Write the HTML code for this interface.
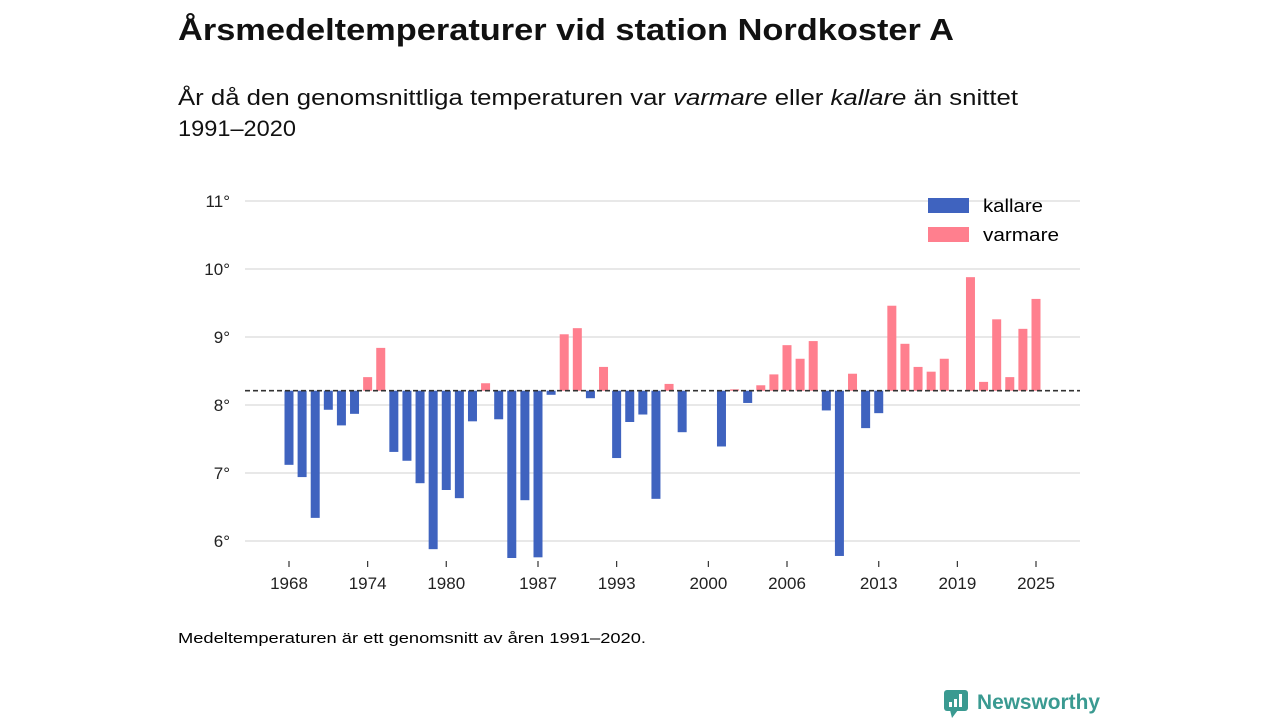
<!DOCTYPE html>
<html><head><meta charset="utf-8"><style>
body{margin:0;width:1280px;height:720px;background:#fff;font-family:"Liberation Sans","DejaVu Sans",sans-serif;color:#111;overflow:hidden}
</style></head><body>
<svg width="1280" height="720" xmlns="http://www.w3.org/2000/svg" id="chart">
<text x="178" y="40" font-size="31" font-weight="bold" fill="#111" textLength="776" lengthAdjust="spacingAndGlyphs">Årsmedeltemperaturer vid station Nordkoster A</text>
<text x="178" y="105" font-size="22" fill="#111" textLength="840" lengthAdjust="spacingAndGlyphs">År då den genomsnittliga temperaturen var <tspan font-style="italic">varmare</tspan> eller <tspan font-style="italic">kallare</tspan> än snittet</text>
<text x="178" y="136" font-size="22" fill="#111" textLength="118" lengthAdjust="spacingAndGlyphs">1991–2020</text>
<g id="grid"></g><g id="bars"></g><g id="xaxis"></g>
<g>
<rect x="928" y="198" width="41" height="15" fill="#3f63bf"/>
<text x="983" y="212" font-size="18" textLength="60" lengthAdjust="spacingAndGlyphs">kallare</text>
<rect x="928" y="227" width="41" height="15" fill="#ff7f8e"/>
<text x="983" y="241" font-size="18" textLength="76" lengthAdjust="spacingAndGlyphs">varmare</text>
</g>
<text x="178" y="643" font-size="15" textLength="468" lengthAdjust="spacingAndGlyphs">Medeltemperaturen är ett genomsnitt av åren 1991–2020.</text>
<g>
<rect x="944" y="690" width="24" height="21" rx="3" fill="#3a9a91"/>
<polygon points="950,710 958,710 952,718" fill="#3a9a91"/>
<rect x="949" y="702" width="3" height="5" fill="#fff"/><rect x="954" y="699" width="3" height="8" fill="#fff"/><rect x="959" y="694" width="3" height="13" fill="#fff"/>
<text x="977" y="709" font-size="21" font-weight="bold" fill="#3a9a91" textLength="123" lengthAdjust="spacingAndGlyphs">Newsworthy</text>
</g>
</svg>
<script>
const years=[];for(let y=1968;y<=2025;y++)years.push(y);
const temps=[7.12,6.94,6.34,7.93,7.70,7.87,8.41,8.84,7.31,7.18,6.85,5.88,6.75,6.63,7.76,8.32,7.79,5.75,6.60,5.76,8.15,9.04,9.13,8.10,8.56,7.22,7.75,7.86,6.62,8.31,7.60,null,null,7.39,8.23,8.03,8.29,8.45,8.88,8.68,8.94,7.92,5.78,8.46,7.66,7.88,9.46,8.90,8.56,8.49,8.68,null,9.88,8.34,9.26,8.41,9.12,9.56];
const average=8.21;
const yTicks=[6,7,8,9,10,11];
const xTicks=[1968,1974,1980,1987,1993,2000,2006,2013,2019,2025];
const NS="http://www.w3.org/2000/svg";
const xS=y=>289+(y-1968)*(1036-289)/57;
const yS=v=>405-(v-8)*68;
function mk(tag,attrs,parent){const e=document.createElementNS(NS,tag);for(const k in attrs)e.setAttribute(k,attrs[k]);parent.appendChild(e);return e;}
const grid=document.getElementById('grid'),bars=document.getElementById('bars'),xa=document.getElementById('xaxis');
yTicks.forEach(t=>{
 const l=mk('line',{x1:245,x2:1080,y1:yS(t),y2:yS(t),stroke:'#d9d9d9','stroke-width':1.2},grid);
 
 
 const tx=mk('text',{x:230,y:yS(t)+6,'font-size':17,'text-anchor':'end',fill:'#222'},grid);tx.textContent=t+'°';
 
 
});
years.forEach((y,i)=>{const v=temps[i];if(v==null)return;
 const a=yS(average),b=yS(v);
 const r=mk('rect',{x:xS(y)-4.5,width:9,y:Math.min(a,b),height:Math.max(Math.abs(a-b),0.5),fill:v<average?'#3f63bf':'#ff7f8e'},bars);
 
 
});
const dl=mk('line',{x1:245,x2:1080,y1:yS(average),y2:yS(average),stroke:'#333','stroke-width':1.6,'stroke-dasharray':'5,3'},bars);


xTicks.forEach(t=>{
 const l=mk('line',{x1:xS(t),x2:xS(t),y1:561,y2:567,stroke:'#333','stroke-width':1.2},xa);
 
 
 const tx=mk('text',{x:xS(t),y:589,'font-size':17,'text-anchor':'middle',fill:'#222'},xa);tx.textContent=t;
 
 
});
</script>
</body></html>
